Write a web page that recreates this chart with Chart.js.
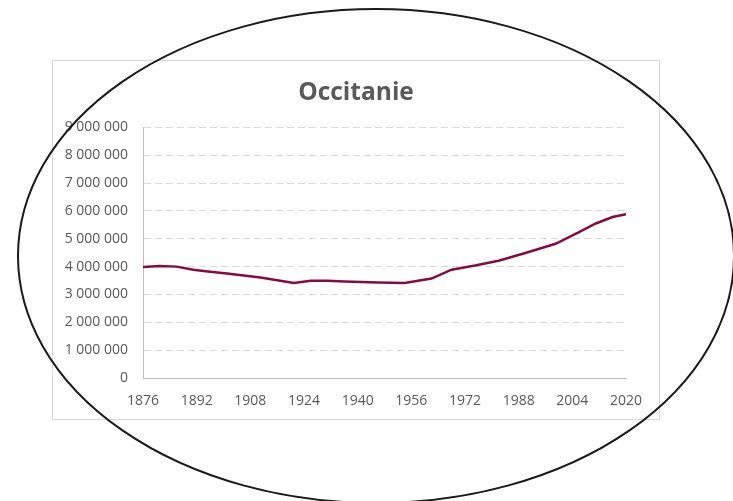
<!DOCTYPE html>
<html>
<head>
<meta charset="utf-8">
<script src="https://cdn.jsdelivr.net/npm/chart.js@4.4.1/dist/chart.umd.min.js"></script>
<style>
  html, body { margin: 0; padding: 0; background: #fff; }
  canvas { display: block; }
</style>
</head>
<body>
<canvas id="popChart" width="733" height="501"></canvas>
<script>
// census years and population
const years = [1876, 1881, 1886, 1891, 1896, 1901, 1906, 1911, 1921, 1926, 1931, 1936,
  1946, 1954, 1962, 1968, 1975, 1982, 1990, 1999, 2006, 2011, 2016, 2020];
const population = [3990000, 4020000, 4000000, 3890000, 3820000, 3750000, 3680000, 3610000,
  3410000, 3490000, 3490000, 3470000, 3430000, 3410000, 3570000, 3890000, 4040000, 4210000,
  4490000, 4820000, 5240000, 5550000, 5780000, 5880000];
const xTicks = [1876, 1892, 1908, 1924, 1940, 1956, 1972, 1988, 2004, 2020];

Chart.defaults.font.family = "'Open Sans', sans-serif";
Chart.defaults.color = "#595959";

const spaced = (v) => String(v).replace(/\B(?=(\d{3})+(?!\d))/g, " ");

// outer chart frame + the hand-drawn ellipse on top
const decor = {
  id: "decor",
  beforeDraw(chart) {
    const ctx = chart.ctx;
    ctx.save();
    ctx.fillStyle = "#fff";
    ctx.fillRect(0, 0, chart.width, chart.height);
    ctx.strokeStyle = "#d9d9d9";
    ctx.lineWidth = 1;
    ctx.strokeRect(52.5, 60.5, 607, 359);
    ctx.restore();
  },
  afterDraw(chart) {
    const ctx = chart.ctx;
    ctx.save();
    ctx.strokeStyle = "#1a1a1a";
    ctx.lineWidth = 2;
    ctx.beginPath();
    ctx.ellipse(376, 256, 358, 247, 0, 0, Math.PI * 2);
    ctx.stroke();
    ctx.restore();
  },
};

const data = {
  datasets: [
    {
      label: "Occitanie",
      data: years.map((y, i) => ({ x: y, y: population[i] })),
      borderColor: "#850b45",
      backgroundColor: "#850b45",
      borderWidth: 2.5,
      pointRadius: 0,
      tension: 0,
    },
  ],
};

const options = {
  responsive: false,
  animation: false,
  layout: { padding: { left: 52, right: 73, top: 60, bottom: 83 } },
  plugins: {
    legend: { display: false },
    tooltip: { enabled: false },
    title: {
      display: true,
      text: "Occitanie",
      color: "#595959",
      font: { size: 24.5, weight: "bold" },
      padding: { top: 18, bottom: 20 },
    },
  },
  scales: {
    x: {
      type: "linear",
      min: 1876,
      max: 2020,
      afterBuildTicks: (scale) => {
        scale.ticks = xTicks.map((v) => ({ value: v }));
      },
      afterFit: (scale) => { scale.height = 40; },
      grid: { display: false, drawTicks: false },
      border: { display: true, color: "#bfbfbf", width: 1 },
      ticks: {
        padding: 15,
        maxRotation: 0,
        autoSkip: false,
        font: { size: 14 },
        callback: (v) => String(v),
      },
    },
    y: {
      min: 0,
      max: 9000000,
      afterFit: (scale) => { scale.width = 91; },
      grid: { color: "#d9d9d9", lineWidth: 1, drawTicks: false },
      border: { display: true, color: "#bfbfbf", width: 1, dash: [7, 4] },
      ticks: {
        stepSize: 1000000,
        padding: 15,
        font: { size: 14 },
        callback: (v) => spaced(v),
      },
    },
    // empty right-hand margin inside the frame
    pad: {
      position: "right",
      display: true,
      afterFit: (scale) => { scale.width = 34; },
      grid: { display: false, drawTicks: false },
      border: { display: false },
      ticks: { display: false },
    },
  },
};

new Chart("popChart", { type: "line", data, options, plugins: [decor] });
</script>
</body>
</html>
